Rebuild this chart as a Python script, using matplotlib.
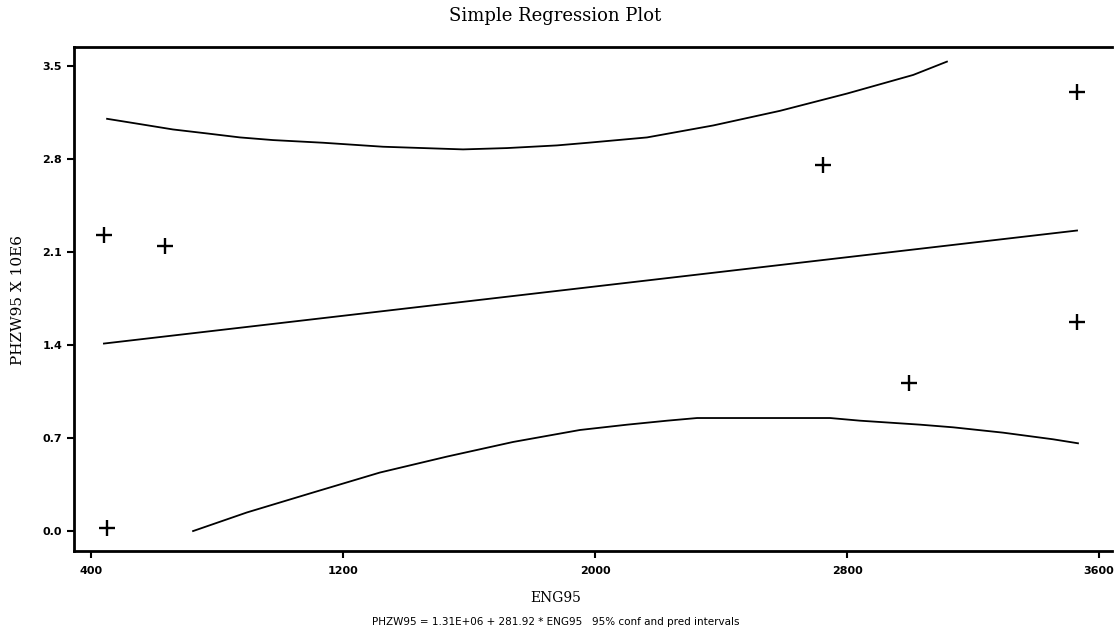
import matplotlib
matplotlib.use("Agg")
import matplotlib.pyplot as plt

# Observed data points (ENG95, PHZW95 in 10^6)
obs_x = [451, 441, 635, 2724, 2997, 3530, 3530]
obs_y = [0.02, 2.23, 2.14, 2.75, 1.11, 3.30, 1.57]

# Fitted regression line endpoints
fit_x = [441, 3530]
fit_y = [1.41, 2.26]

# Upper interval curve
upper_x = [451, 556, 660, 768, 873, 978, 1137, 1327, 1454, 1581, 1721, 1879,
           1978, 2165, 2375, 2587, 2800, 3010, 3117]
upper_y = [3.10, 3.06, 3.02, 2.99, 2.96, 2.94, 2.92, 2.89, 2.88, 2.87, 2.88, 2.90,
           2.92, 2.96, 3.05, 3.16, 3.29, 3.43, 3.53]

# Lower interval curve
lower_x = [724, 895, 1105, 1317, 1530, 1740, 1952, 2102, 2229, 2324, 2746, 2841,
           3032, 3137, 3295, 3454, 3533]
lower_y = [0.00, 0.14, 0.29, 0.44, 0.56, 0.67, 0.76, 0.80, 0.83, 0.85, 0.85, 0.83,
           0.80, 0.78, 0.74, 0.69, 0.66]

x_ticks = [400, 1200, 2000, 2800, 3600]
y_ticks = [0.0, 0.7, 1.4, 2.1, 2.8, 3.5]
y_ticklabels = ["0.0", "0.7", "1.4", "2.1", "2.8", "3.5"]

fig = plt.figure(figsize=(11.15, 6.42), dpi=100)
ax = fig.add_axes([74 / 1115, (642 - 551) / 642, (1112 - 74) / 1115, 504 / 642])

ax.plot(upper_x, upper_y, color="black", lw=1.3)
ax.plot(lower_x, lower_y, color="black", lw=1.3)
ax.plot(fit_x, fit_y, color="black", lw=1.3)
ax.plot(obs_x, obs_y, linestyle="none", marker="+", markersize=11,
        markeredgewidth=1.7, color="black")

ax.set_xlim(346, 3641)
ax.set_ylim(-0.15, 3.64)
ax.set_xticks(x_ticks)
ax.set_xticklabels([str(t) for t in x_ticks])
ax.set_yticks(y_ticks)
ax.set_yticklabels(y_ticklabels)

for s in ["top", "left", "bottom"]:
    ax.spines[s].set_linewidth(2)
ax.spines["right"].set_visible(False)

ax.tick_params(direction="out", length=5, width=1.5, labelsize=8)
for lab in ax.get_xticklabels() + ax.get_yticklabels():
    lab.set_fontweight("bold")
ax.tick_params(axis="x", pad=6)

fig.text(0.498, 0.975, "Simple Regression Plot", ha="center", va="center",
         family="DejaVu Serif", fontsize=13)
fig.text(0.016, (642 - 300) / 642, "PHZW95 X 10E6", rotation=90, ha="center",
         va="center", family="DejaVu Serif", fontsize=11)
fig.text(0.498, (642 - 598) / 642, "ENG95", ha="center", va="center",
         family="DejaVu Serif", fontsize=10)
fig.text(0.498, (642 - 622) / 642,
         "PHZW95 = 1.31E+06 + 281.92 * ENG95   95% conf and pred intervals",
         ha="center", va="center", fontsize=7.5)

fig.savefig("out.png", dpi=100)
